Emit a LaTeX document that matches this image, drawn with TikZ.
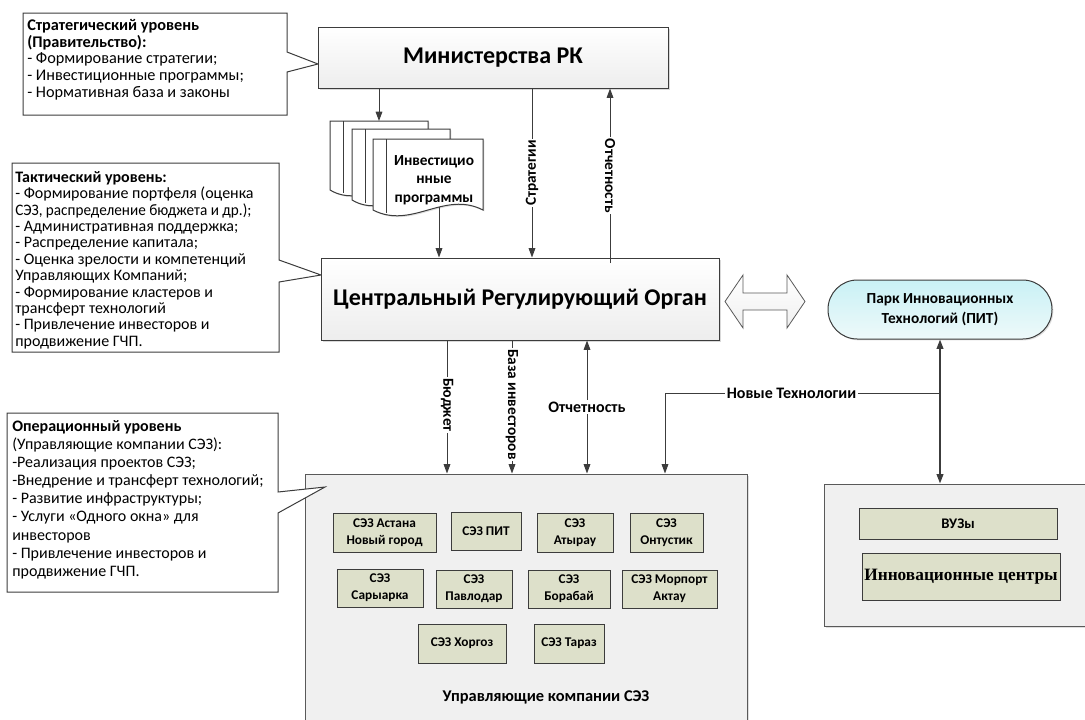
\documentclass[tikz,border=0pt]{standalone}
\usepackage{fontspec}
\setmainfont{Carlito}
\newfontfamily\serifbf{Liberation Serif}
\usetikzlibrary{arrows.meta,fit,shadows}
\definecolor{lc}{HTML}{3C3C3C}
\definecolor{zfill}{HTML}{DDE0CA}
\definecolor{cfill}{HTML}{F0F0F0}
\definecolor{pittop}{HTML}{C9F1F5}
\definecolor{pitbot}{HTML}{EEF9FA}
\tikzset{
  mainbox/.style={draw=lc, line width=0.75pt, top color=white, bottom color=gray!14, inner sep=0pt,
    drop shadow={shadow xshift=1.5pt,shadow yshift=-1.5pt,opacity=0.3}},
  maintext/.style={inner sep=0pt, font=\bfseries\fontsize{18}{22}\selectfont},
  zbox/.style={draw=lc, line width=0.75pt, fill=zfill, inner sep=0pt,
    drop shadow={shadow xshift=0.8pt,shadow yshift=-0.8pt,opacity=0.25}},
  ztext/.style={inner sep=0pt, align=center, font=\bfseries\fontsize{10}{12.8}\selectfont},
  container/.style={draw=lc!85, line width=0.75pt, fill=cfill, inner sep=0pt,
    drop shadow={shadow xshift=1.5pt,shadow yshift=-1.5pt,opacity=0.25}},
  callout/.style={draw=lc, line width=0.75pt, fill=white},
  ctext/.style={anchor=north west, inner sep=0pt, align=left},
  tip/.style={-{Triangle[length=7pt,width=5pt]}},
  arr/.style={draw=lc, line width=0.75pt, tip},
  darr/.style={draw=lc, line width=0.75pt, {Triangle[length=7pt,width=5pt]}-{Triangle[length=7pt,width=5pt]}},
  lab/.style={fill=white, inner sep=1pt, font=\bfseries\fontsize{12}{14}\selectfont},
  rlab/.style={fill=white, inner sep=1pt, font=\bfseries\fontsize{11.5}{14}\selectfont},
  docpage/.style={draw=lc, line width=0.75pt, fill=white,
    drop shadow={shadow xshift=1pt,shadow yshift=-1pt,opacity=0.25}},
}
\begin{document}
\begin{tikzpicture}[x=0.75pt,y=-0.75pt]
\useasboundingbox (0,0) rectangle (1085,719);

% ---- strategic callout
\path[callout] (23,13) -- (287,13) -- (287,52) -- (318,64) -- (287,72) -- (287,115) -- (23,115) -- cycle;
\node[ctext, font=\fontsize{12.2}{12.6}\selectfont] (strat) at (27,19) {\textbf{Стратегический уровень}\\\textbf{(Правительство):}\\- Формирование стратегии;\\- Инвестиционные программы;\\- Нормативная база и законы};

% ---- tactical callout
\path[callout] (12,163) -- (279,163) -- (279,260) -- (321,275) -- (279,282) -- (279,352) -- (12,352) -- cycle;
\node[ctext, font=\fontsize{12}{12.3}\selectfont] (tact) at (15,171) {\textbf{Тактический уровень:}\\- Формирование портфеля (оценка\\\scalebox{0.95}[1]{СЭЗ, распределение бюджета и др.);}\\- Административная поддержка;\\- Распределение капитала;\\- Оценка зрелости и компетенций\\Управляющих Компаний;\\- Формирование кластеров и\\трансферт технологий\\- Привлечение инвесторов и\\продвижение ГЧП.};

% ---- main boxes
\node[mainbox, fit={(318,27) (668,88)}] (min) {};
\node[maintext] (mint) at (min.center) {Министерства РК};
\node[mainbox, fit={(321,258) (719,340)}] (cro) {};
\node[maintext] (crot) at (cro.center) {Центральный Регулирующий Орган};

% ---- document stack
\path[docpage] (330,121) -- (428,121) -- (428,190) .. controls (394,170) and (364,210) .. (330,190) -- cycle;
\draw[lc, line width=0.75pt] (343,121) -- (343,193);
\path[docpage] (352,129) -- (450,129) -- (450,200) .. controls (416,180) and (386,220) .. (352,200) -- cycle;
\draw[lc, line width=0.75pt] (365,129) -- (365,203);
\path[docpage] (373,139) -- (483,139) -- (483,210) .. controls (444,190) and (412,230) .. (373,210) -- cycle;
\draw[lc, line width=0.75pt] (386,139) -- (386,213);
\node[font=\bfseries\fontsize{11.5}{13.8}\selectfont, align=center, inner sep=0pt] (docs) at (434,180) {Инвестицио\\нные\\программы};
\coordinate (d1top) at (379,121);
\coordinate (d3b) at (439,207);

% ---- connectors ministry / CRO
\coordinate (xS) at (532,0);
\coordinate (xR) at (610,0);
\coordinate (rstart) at (610,263);
\draw[arr] (d1top |- min.south) -- (d1top);
\draw[arr] (d3b) -- (d3b |- cro.north);
\draw[arr] (xS |- min.south) -- node[rlab, rotate=90] {Стратегии} (xS |- cro.north);
\draw[arr] (rstart) -- node[rlab, rotate=-90] {Отчетность} (xR |- min.south);

% ---- hollow double arrow
\path[draw=gray!70!black, line width=0.6pt, top color=white, bottom color=gray!12]
  (725,301.5) -- (743,275) -- (743,293) -- (787,293) -- (787,275) -- (805,301.5)
  -- (787,328) -- (787,310) -- (743,310) -- (743,328) -- cycle;

% ---- PIT
\node[draw=lc, line width=0.75pt, top color=pittop, bottom color=pitbot, rounded corners=22pt,
  inner sep=0pt, fit={(828,280) (1052,339)},
  drop shadow={shadow xshift=1pt,shadow yshift=-1pt,opacity=0.25}] (pit) {};
\node[inner sep=0pt, align=center, font=\bfseries\fontsize{11.5}{15}\selectfont] (pitt) at (pit.center) {Парк Инновационных\\Технологий (ПИТ)};

% ---- SEZ container
\node[container, fit={(305,474) (747,740)}] (sez) {};
\node[font=\bfseries\fontsize{12.3}{14}\selectfont, inner sep=0pt] (sezlab) at (546,697) {Управляющие компании СЭЗ};

\node[zbox, fit={(333,513) (436,552)}] (z1) {};
\node[ztext] at (z1.center) {СЭЗ Астана\\Новый город};
\node[zbox, fit={(451,512) (521,550)}] (z2) {};
\node[ztext] at (z2.center) {СЭЗ ПИТ};
\node[zbox, fit={(537,513) (613,552)}] (z3) {};
\node[ztext] at (z3.center) {СЭЗ\\Атырау};
\node[zbox, fit={(630,513) (703,552)}] (z4) {};
\node[ztext] at (z4.center) {СЭЗ\\Онтустик};
\node[zbox, fit={(337,569) (423,607)}] (z5) {};
\node[ztext] at (z5.center) {СЭЗ\\Сарыарка};
\node[zbox, fit={(436,570) (512,608)}] (z6) {};
\node[ztext] at (z6.center) {СЭЗ\\Павлодар};
\node[zbox, fit={(528,570) (610,608)}] (z7) {};
\node[ztext] at (z7.center) {СЭЗ\\Борабай};
\node[zbox, fit={(622,570) (717,608)}] (z8) {};
\node[ztext] at (z8.center) {СЭЗ Морпорт\\Актау};
\node[zbox, fit={(418,624) (506,663)}] (z9) {};
\node[ztext] at (z9.center) {СЭЗ Хоргоз};
\node[zbox, fit={(534,624) (604,663)}] (z10) {};
\node[ztext] at (z10.center) {СЭЗ Тараз};

% ---- operational callout
\path[callout] (7,413) -- (278,413) -- (278,492) -- (325,487) -- (278,513) -- (278,592) -- (7,592) -- cycle;
\node[ctext, font=\fontsize{12}{13.6}\selectfont] (oper) at (12,420) {\textbf{Операционный уровень}\\(Управляющие компании СЭЗ):\\-Реализация проектов СЭЗ;\\-Внедрение и трансферт технологий;\\- Развитие инфраструктуры;\\- Услуги «Одного окна» для\\инвесторов\\- Привлечение инвесторов и\\продвижение ГЧП.};

% ---- right container
\node[container, fit={(824,484) (1095,626)}] (cont) {};
\node[zbox, fit={(859,508) (1057,539)}] (vuz) {};
\node[ztext, font=\bfseries\fontsize{11}{13}\selectfont] at (vuz.center) {ВУЗы};
\node[zbox, fit={(862,553) (1060,600)}] (ic) {};
\node[ztext, font=\serifbf\bfseries\fontsize{13}{15}\selectfont] at (ic.center) {Инновационные центры};

% ---- CRO to SEZ connectors
\coordinate (xB) at (447,0);
\coordinate (xI) at (512,0);
\coordinate (xO) at (587,0);
\draw[arr] (xB |- cro.south) -- node[rlab, rotate=-90, pos=0.485] {Бюджет} (xB |- sez.north);
\draw[arr] (xI |- cro.south) -- node[rlab, rotate=-90, pos=0.48] {База инвесторов} (xI |- sez.north);
\draw[darr] (xO |- cro.south) -- node[lab] {Отчетность} (xO |- sez.north);

% ---- new technologies
\coordinate (xP) at (940,0);
\coordinate (nt) at (940,393);
\coordinate (ntx) at (665,393);
\draw[darr, line width=1.2pt] (xP |- pit.south) -- (xP |- cont.north);
\draw[arr] (nt) -- node[lab, pos=0.54] {Новые Технологии} (ntx) -- (ntx |- sez.north);
\end{tikzpicture}
\end{document}
